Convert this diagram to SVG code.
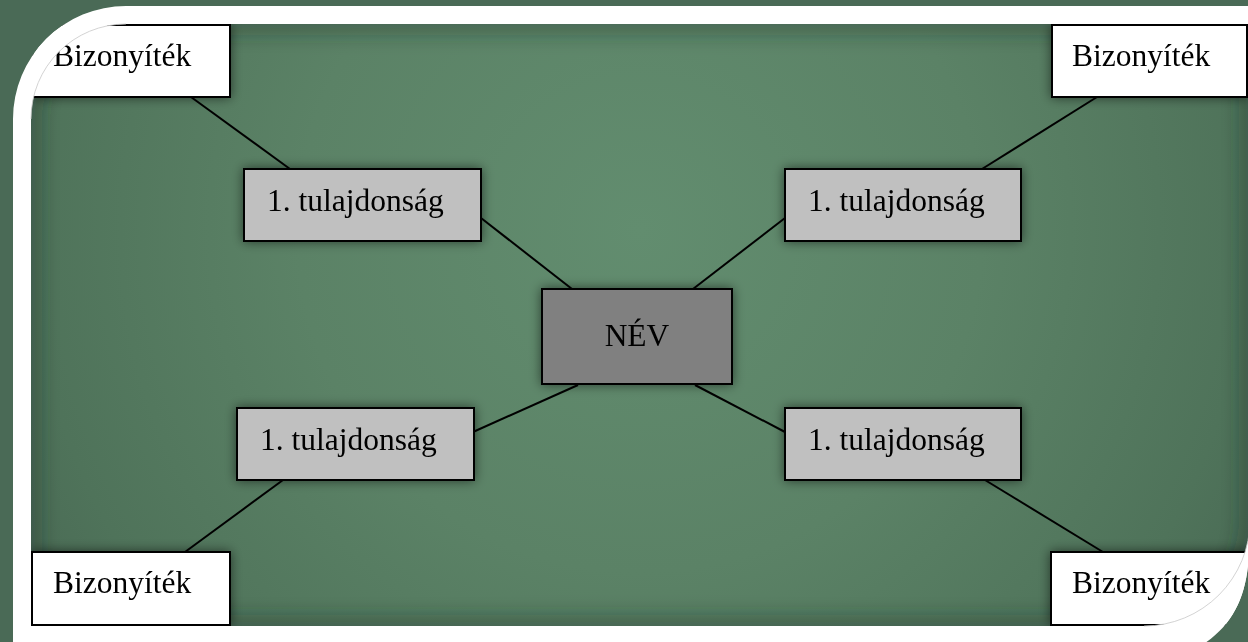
<svg xmlns="http://www.w3.org/2000/svg" width="1248" height="642" viewBox="0 0 1248 642">
  <style>
    .box { stroke: #000; stroke-width: 2; }
    .biz { fill: #ffffff; }
    .prop { fill: #c0c0c0; }
    .name { fill: #808080; }
    .lbl { font-family: "Liberation Serif", "Times New Roman", serif; font-size: 31.5px; fill: #000; }
    .conn line { stroke: #000; stroke-width: 2; }
  </style>
  <defs>
    <radialGradient id="bg" cx="640" cy="230" r="760" gradientUnits="userSpaceOnUse">
      <stop offset="0" stop-color="#628d6f"/>
      <stop offset="0.45" stop-color="#5b8266"/>
      <stop offset="0.8" stop-color="#4f735a"/>
      <stop offset="1" stop-color="#476652"/>
    </radialGradient>
    <filter id="glow" x="-20%" y="-40%" width="140%" height="180%">
      <feGaussianBlur in="SourceAlpha" stdDeviation="6" result="b"/>
      <feComponentTransfer in="b" result="s"><feFuncA type="linear" slope="0.55"/></feComponentTransfer>
      <feMerge><feMergeNode in="s"/><feMergeNode in="SourceGraphic"/></feMerge>
    </filter>
    <filter id="blur" x="-5%" y="-5%" width="110%" height="110%">
      <feGaussianBlur stdDeviation="9"/>
    </filter>
    <clipPath id="innerClip">
      <path d="M31,119 A95,95 0 0 1 126,24 L1250,24 L1250,520 A106,106 0 0 1 1144,626 L31,626 Z"/>
    </clipPath>
  </defs>

  <!-- inner green panel -->
  <rect x="0" y="0" width="1248" height="642" fill="url(#bg)"/>
  <!-- inner shadow along frame edge -->
  <g clip-path="url(#innerClip)">
    <path d="M31,119 A95,95 0 0 1 126,24 L1250,24 L1250,520 A106,106 0 0 1 1144,626 L31,626 Z" fill="none" stroke="#1f3326" stroke-opacity="0.35" stroke-width="22" filter="url(#blur)"/>
  </g>

  <g class="conn" id="connectors">
    <line x1="191" y1="97" x2="290" y2="169"/>
    <line x1="481" y1="218" x2="572" y2="289"/>
    <line x1="1097" y1="97" x2="982" y2="169"/>
    <line x1="785" y1="218" x2="693" y2="289"/>
    <line x1="578" y1="385" x2="473" y2="432"/>
    <line x1="695" y1="385" x2="785" y2="432"/>
    <line x1="283" y1="480" x2="185" y2="552"/>
    <line x1="985" y1="480" x2="1103" y2="552"/>
  </g>

  <g id="node-biz-tl" filter="url(#glow)">
    <rect class="box biz" x="33" y="25" width="197" height="72"/>
    <text class="lbl" x="53" y="66">Bizonyíték</text>
  </g>
  <g id="node-biz-tr" filter="url(#glow)">
    <rect class="box biz" x="1052" y="25" width="195" height="72"/>
    <text class="lbl" x="1072" y="66">Bizonyíték</text>
  </g>
  <g id="node-biz-bl" filter="url(#glow)">
    <rect class="box biz" x="32" y="552" width="198" height="73"/>
    <text class="lbl" x="53" y="593">Bizonyíték</text>
  </g>
  <g id="node-biz-br" filter="url(#glow)">
    <rect class="box biz" x="1051" y="552" width="200" height="73"/>
    <text class="lbl" x="1072" y="593">Bizonyíték</text>
  </g>

  <g id="node-prop-tl" filter="url(#glow)">
    <rect class="box prop" x="244" y="169" width="237" height="72"/>
    <text class="lbl" x="267" y="211">1. tulajdonság</text>
  </g>
  <g id="node-prop-tr" filter="url(#glow)">
    <rect class="box prop" x="785" y="169" width="236" height="72"/>
    <text class="lbl" x="808" y="211">1. tulajdonság</text>
  </g>
  <g id="node-prop-bl" filter="url(#glow)">
    <rect class="box prop" x="237" y="408" width="237" height="72"/>
    <text class="lbl" x="260" y="450">1. tulajdonság</text>
  </g>
  <g id="node-prop-br" filter="url(#glow)">
    <rect class="box prop" x="785" y="408" width="236" height="72"/>
    <text class="lbl" x="808" y="450">1. tulajdonság</text>
  </g>

  <g id="node-name" filter="url(#glow)">
    <rect class="box name" x="542" y="289" width="190" height="95"/>
    <text class="lbl" x="637" y="346" text-anchor="middle">NÉV</text>
  </g>

  <!-- dark outer margin on top -->
  <path fill="#4a6a56" fill-rule="evenodd" d="M0,0 H1248 V642 H0 Z M13,119 A113,113 0 0 1 126,6 L1249,6 L1249,545 C1249,590 1236,622 1205,643 L13,643 Z"/>
  <!-- white frame -->
  <path fill="#ffffff" fill-rule="evenodd" d="M13,119 A113,113 0 0 1 126,6 L1249,6 L1249,545 C1249,590 1236,622 1205,643 L13,643 Z M31,119 A95,95 0 0 1 126,24 L1250,24 L1250,520 A106,106 0 0 1 1144,626 L31,626 Z"/>
  <path d="M31,119 A95,95 0 0 1 126,24 M1250,520 A106,106 0 0 1 1144,626" fill="none" stroke="#c8c8c8" stroke-width="0.8"/>
</svg>
